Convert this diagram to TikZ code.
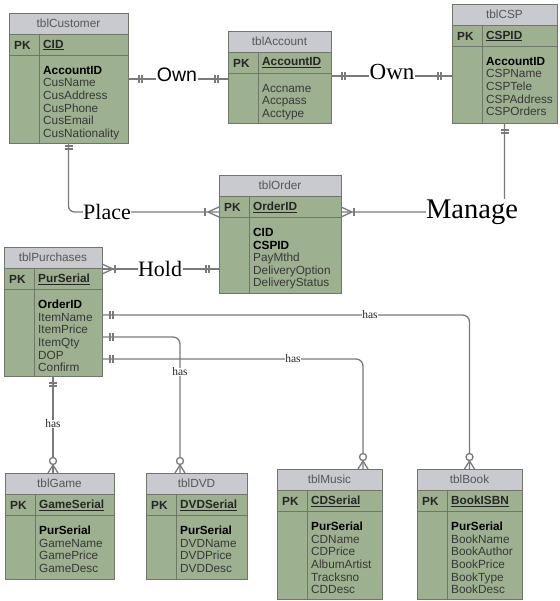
\documentclass[tikz,border=0pt]{standalone}
\usepackage{fontspec}
\setmainfont{Liberation Serif}
\setsansfont{Liberation Sans}
\usetikzlibrary{calc}
\definecolor{bodyg}{HTML}{9DB08F}
\definecolor{titleg}{HTML}{C9CACF}
\definecolor{edgeg}{HTML}{6F7769}
\definecolor{lineg}{HTML}{7A7A7A}
\definecolor{txtg}{HTML}{383838}
\tikzset{
  tbl/.style={draw=edgeg, line width=0.9pt, fill=bodyg, inner sep=0pt, outer sep=0pt},
  edgeline/.style={draw=edgeg, line width=0.9pt},
  ttl/.style={font=\sffamily\fontsize{11.8}{12.6}\selectfont, text=txtg!85, inner sep=0pt},
  pkl/.style={font=\sffamily\bfseries\fontsize{11.8}{12.6}\selectfont, text=black!85, inner sep=0pt, anchor=west},
  fld/.style={font=\sffamily\fontsize{11.8}{12.6}\selectfont, text=txtg, inner sep=0pt, align=left, anchor=north west},
  conn/.style={draw=lineg, line width=1.3pt},
  rel/.style={font=\fontsize{22}{22}\selectfont, fill=white, inner sep=0.5pt},
  hasl/.style={font=\fontsize{11.5}{12}\selectfont, fill=white, inner sep=0.3pt, text=black!85},
}
\newcommand\ertable[8]{%
  \node[tbl, anchor=north west, minimum width={#4-#2}, minimum height={#5-#3}] (#1) at (#2,#3) {};
  \fill[titleg] (#1.north west) rectangle ($(#1.north east)+(0,21)$);
  \draw[edgeline] ($(#1.north west)+(0,21)$) -- ($(#1.north east)+(0,21)$);
  \draw[edgeline] ($(#1.north west)+(0,42.5)$) -- ($(#1.north east)+(0,42.5)$);
  \draw[edgeline] ($(#1.north west)+(30,21)$) -- ($(#1.south west)+(30,0)$);
  \draw[edgeline] (#1.north west) rectangle (#1.south east);
  \node[ttl] (#1-t) at ($(#1.north)+(0,10.5)$) {#6};
  \node[pkl] (#1-pk) at ($(#1.north west)+(5,32)$) {PK};
  \node[pkl] (#1-k) at ($(#1.north west)+(34,32)$) {\underline{#7}};
  \node[fld] (#1-b) at ($(#1.north west)+(34,53)$) {#8};
}
\newcommand\B[1]{\textbf{\color{black}#1}}
\newcommand\vbars[2]{\draw[conn] ($(#1)+(#2,-4)$) -- ++(0,8) ($(#1)+(#2+3,-4)$) -- ++(0,8);}
\newcommand\hbars[2]{\draw[conn] ($(#1)+(-4,#2)$) -- ++(8,0) ($(#1)+(-4,#2+3)$) -- ++(8,0);}
\newcommand\crowE[2]{\draw[conn] ($(#1)+(#2,0)$) -- ($(#1)+(0,-5)$) ($(#1)+(#2,0)$) -- ($(#1)+(0,5)$);}
\newcommand\onebar[2]{\draw[conn] ($(#1)+(#2,-4)$) -- ++(0,8);}
\newcommand\optmany[1]{%
  \draw[conn] ($(#1)+(0,-8)$) -- ($(#1)+(-5,0)$) ($(#1)+(0,-8)$) -- ($(#1)+(5,0)$);
  \draw[conn, fill=white] ($(#1)+(0,-12)$) circle (3.5);}
\begin{document}
\begin{tikzpicture}[x=1pt, y=-1pt]
\fill[white] (0,0) rectangle (559,601);
\useasboundingbox (0,0) rectangle (559,601);

% tables
\ertable{cust}{9}{13}{128}{143}{tblCustomer}{CID}{\B{AccountID}\\CusName\\CusAddress\\CusPhone\\CusEmail\\CusNationality}
\ertable{acct}{228}{31}{331}{123}{tblAccount}{AccountID}{Accname\\Accpass\\Acctype}
\ertable{csp}{452}{4}{557}{123}{tblCSP}{CSPID}{\B{AccountID}\\CSPName\\CSPTele\\CSPAddress\\CSPOrders}
\ertable{order}{219}{175}{341}{293}{tblOrder}{OrderID}{\B{CID}\\\B{CSPID}\\PayMthd\\DeliveryOption\\DeliveryStatus}
\ertable{purch}{4}{247}{102}{376}{tblPurchases}{PurSerial}{\B{OrderID}\\ItemName\\ItemPrice\\ItemQty\\DOP\\Confirm}
\ertable{game}{5}{473}{114}{579}{tblGame}{GameSerial}{\B{PurSerial}\\GameName\\GamePrice\\GameDesc}
\ertable{dvd}{146}{473}{247}{579}{tblDVD}{DVDSerial}{\B{PurSerial}\\DVDName\\DVDPrice\\DVDDesc}
\ertable{music}{277}{469}{382}{599}{tblMusic}{CDSerial}{\B{PurSerial}\\CDName\\CDPrice\\AlbumArtist\\Tracksno\\CDDesc}
\ertable{book}{417}{469}{522}{599}{tblBook}{BookISBN}{\B{PurSerial}\\BookName\\BookAuthor\\BookPrice\\BookType\\BookDesc}

% line rows
\coordinate (r1) at (177,79);
\coordinate (r2) at (392,76);
\coordinate (rplace) at (107,212);
\coordinate (rmanage) at (472,212);
\coordinate (rhold) at (160,269);
\coordinate (rname) at (370,315);
\coordinate (rqty) at (150,337);
\coordinate (rdop) at (293,359);
\coordinate (dvdtop) at ($(dvd.north west)+(34,0)$);
\coordinate (musictop) at ($(music.north west)+(86,0)$);

% connectors
\draw[conn] (cust.east |- r1) -- (acct.west |- r1);
\draw[conn] (acct.east |- r2) -- (csp.west |- r2);
\draw[conn, rounded corners=6pt] (cust.south) |- (order.west |- rplace);
\draw[conn, rounded corners=6pt] (order.east |- rmanage) -| (csp.south);
\draw[conn] (purch.east |- rhold) -- (order.west |- rhold);
\draw[conn, rounded corners=7pt] (purch.east |- rname) -| (book.north);
\draw[conn, rounded corners=7pt] (purch.east |- rqty) -| (dvdtop);
\draw[conn, rounded corners=7pt] (purch.east |- rdop) -| (musictop);
\draw[conn] (purch.south) -- (purch.south |- game.north);

% end points
\coordinate (o1a) at (cust.east |- r1);
\coordinate (o1b) at (acct.west |- r1);
\coordinate (o2a) at (acct.east |- r2);
\coordinate (o2b) at (csp.west |- r2);
\coordinate (pla) at (cust.south);
\coordinate (plb) at (order.west |- rplace);
\coordinate (maa) at (order.east |- rmanage);
\coordinate (mab) at (csp.south);
\coordinate (hoa) at (purch.east |- rhold);
\coordinate (hob) at (order.west |- rhold);
\coordinate (nma) at (purch.east |- rname);
\coordinate (qta) at (purch.east |- rqty);
\coordinate (dpa) at (purch.east |- rdop);
\coordinate (gma) at (purch.south);
\coordinate (gmb) at (purch.south |- game.north);

% notation
\vbars{o1a}{11} \vbars{o1b}{-13}
\vbars{o2a}{11} \vbars{o2b}{-14}
\hbars{pla}{3}
\crowE{plb}{-11} \onebar{plb}{-14}
\crowE{maa}{11} \onebar{maa}{13}
\hbars{mab}{7}
\crowE{hoa}{11} \onebar{hoa}{13}
\vbars{hob}{-13}
\vbars{nma}{8} \optmany{book.north}
\vbars{qta}{8} \optmany{dvdtop}
\vbars{dpa}{8} \optmany{musictop}
\hbars{gma}{7} \optmany{gmb}

% relationship labels
\node[rel, font=\sffamily\fontsize{19.5}{20}\selectfont] (own1) at (177,75) {Own};
\node[rel, font=\fontsize{23}{23}\selectfont] (own2) at (392,72) {Own};
\node[rel] (place) at (107,212) {Place};
\node[rel] (hold) at (160,269) {Hold};
\node[rel, font=\fontsize{28.5}{28.5}\selectfont] (manage) at (472,212) {Manage};
\node[hasl] (has1) at (370,315) {has};
\node[hasl] (has2) at (180,372) {has};
\node[hasl] (has3) at (293,359) {has};
\node[hasl] (has4) at (53,424) {has};
\end{tikzpicture}
\end{document}
